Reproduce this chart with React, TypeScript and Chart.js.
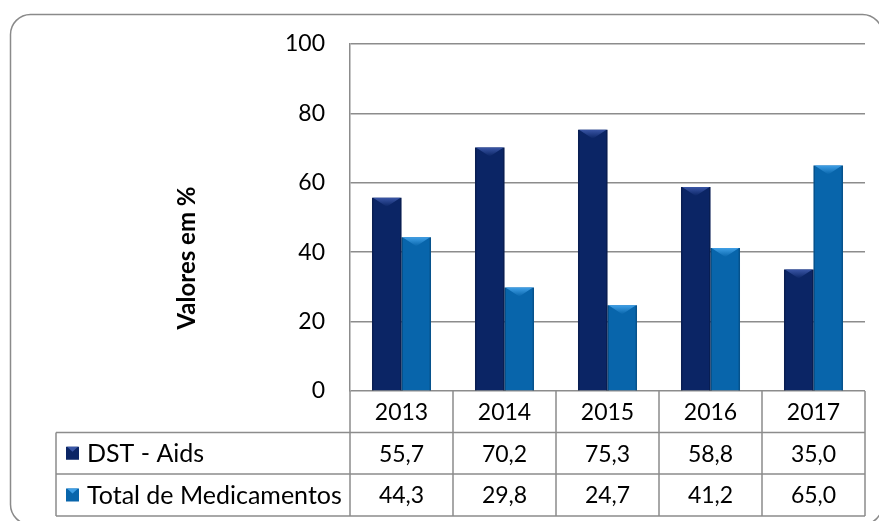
import React, { useEffect, useRef } from "react";
import { Chart, registerables } from "chart.js";

Chart.register(...registerables);

const categories = ["2013", "2014", "2015", "2016", "2017"];
const seriesNames = ["DST - Aids", "Total de Medicamentos"];
const dstAids = [55.7, 70.2, 75.3, 58.8, 35.0];
const totalMedicamentos = [44.3, 29.8, 24.7, 41.2, 65.0];
const yTicks = [0, 20, 40, 60, 80, 100];
const yTitle = "Valores em %";

const COLORS = ["#0b2565", "#0865ab"];
const BEVEL = ["#3a56a6", "#3f9fe6"];
const FONT = "Lato, 'Liberation Sans', sans-serif";
const GRID = "#8c8c8c";

const fmt = (v: number) => v.toFixed(1).replace(".", ",");

const decorPlugin = {
  id: "decor",
  beforeDraw(chart: any) {
    const ctx = chart.ctx;
    ctx.save();
    ctx.fillStyle = "#ffffff";
    ctx.fillRect(0, 0, chart.width, chart.height);
    ctx.strokeStyle = "#8a8a8a";
    ctx.lineWidth = 1.5;
    ctx.beginPath();
    (ctx as any).roundRect(10.5, 14.5, 872, 510, 20);
    ctx.stroke();
    ctx.restore();
  },
  afterDatasetsDraw(chart: any) {
    const ctx = chart.ctx;
    ctx.save();
    chart.data.datasets.forEach((ds: any, di: number) => {
      const meta = chart.getDatasetMeta(di);
      meta.data.forEach((bar: any) => {
        const { x, y, width } = bar.getProps(["x", "y", "width"], true);
        const left = x - width / 2;
        const right = x + width / 2;
        const h = 9;
        const g = ctx.createLinearGradient(0, y, 0, y + h);
        g.addColorStop(0, BEVEL[di]);
        g.addColorStop(1, COLORS[di]);
        ctx.fillStyle = g;
        ctx.beginPath();
        ctx.moveTo(left + 1, y);
        ctx.lineTo(right - 1, y);
        ctx.lineTo(x, y + h);
        ctx.closePath();
        ctx.fill();
        ctx.fillStyle = "rgba(0,0,0,0.18)";
        ctx.fillRect(left, y, 1.5, chart.chartArea.bottom - y);
        ctx.fillRect(right - 1.5, y, 1.5, chart.chartArea.bottom - y);
      });
    });
    ctx.restore();
  },
  afterDraw(chart: any) {
    const ctx = chart.ctx;
    const xs = chart.scales.x;
    const area = chart.chartArea;
    const n = categories.length;
    const colW = (area.right - area.left) / n;
    const r0 = area.bottom;
    const r1 = 432.5;
    const r2 = 474;
    const r3 = 516;
    const tableLeft = 56;
    ctx.save();
    ctx.strokeStyle = GRID;
    ctx.lineWidth = 1.5;
    ctx.beginPath();
    [r1, r2, r3].forEach((yy) => {
      ctx.moveTo(tableLeft, yy);
      ctx.lineTo(area.right, yy);
    });
    ctx.moveTo(tableLeft, r1);
    ctx.lineTo(tableLeft, r3);
    for (let i = 0; i <= n; i++) {
      const xx = area.left + i * colW;
      ctx.moveTo(xx, r0);
      ctx.lineTo(xx, r3);
    }
    ctx.stroke();

    ctx.fillStyle = "#000";
    ctx.font = `23px ${FONT}`;
    ctx.textAlign = "center";
    ctx.textBaseline = "middle";
    const rows = [dstAids, totalMedicamentos];
    categories.forEach((c, i) => {
      const cx = xs.getPixelForValue(i);
      ctx.fillText(c, cx, (r0 + r1) / 2 + 1);
      rows.forEach((vals, ri) => {
        const cy = ri === 0 ? (r1 + r2) / 2 : (r2 + r3) / 2;
        ctx.fillText(fmt(vals[i]), cx, cy + 1);
      });
    });
    ctx.textAlign = "left";
    ctx.font = `25px ${FONT}`;
    seriesNames.forEach((name, ri) => {
      const cy = ri === 0 ? (r1 + r2) / 2 : (r2 + r3) / 2;
      const s = 13;
      const sx = 66;
      const sy = cy - s / 2;
      ctx.fillStyle = COLORS[ri];
      ctx.fillRect(sx, sy, s, s);
      ctx.fillStyle = BEVEL[ri];
      ctx.beginPath();
      ctx.moveTo(sx + 1, sy);
      ctx.lineTo(sx + s - 1, sy);
      ctx.lineTo(sx + s / 2, sy + 5);
      ctx.closePath();
      ctx.fill();
      ctx.fillStyle = "#000";
      ctx.fillText(name, 87, cy + 1);
    });

    ctx.save();
    ctx.translate(187, 258);
    ctx.rotate(-Math.PI / 2);
    ctx.font = `bold 24px ${FONT}`;
    ctx.textAlign = "center";
    ctx.textBaseline = "middle";
    ctx.fillStyle = "#000";
    ctx.fillText(yTitle, 0, 0);
    ctx.restore();
    ctx.restore();
  },
};

export default function App() {
  const ref = useRef<HTMLCanvasElement | null>(null);
  useEffect(() => {
    if (!ref.current) return;
    const chart = new Chart(ref.current, {
      type: "bar",
      data: {
        labels: categories,
        datasets: [
          { label: seriesNames[0], data: dstAids, backgroundColor: COLORS[0], borderWidth: 0 },
          { label: seriesNames[1], data: totalMedicamentos, backgroundColor: COLORS[1], borderWidth: 0 },
        ],
      },
      options: {
        animation: false,
        responsive: true,
        maintainAspectRatio: false,
        layout: { padding: { left: 0, top: 44, right: 14, bottom: 130 } },
        plugins: { legend: { display: false }, tooltip: { enabled: false }, title: { display: false } },
        datasets: { bar: { categoryPercentage: 0.573, barPercentage: 1 } } as any,
        scales: {
          x: { display: false },
          y: {
            min: 0,
            max: 100,
            afterFit: (scale: any) => {
              scale.width = 350;
            },
            afterBuildTicks: (scale: any) => {
              scale.ticks = yTicks.map((v) => ({ value: v }));
            },
            border: { display: true, color: GRID, width: 1.5 },
            grid: { color: GRID, lineWidth: 1.5, drawTicks: false },
            ticks: {
              padding: 25,
              color: "#000",
              font: { family: FONT, size: 23 },
            },
          },
        },
      },
      plugins: [decorPlugin],
    });
    return () => chart.destroy();
  }, []);
  return (
    <div style={{ position: "absolute", left: 0, top: 0, width: 879, height: 521 }}>
      <canvas ref={ref} />
    </div>
  );
}
